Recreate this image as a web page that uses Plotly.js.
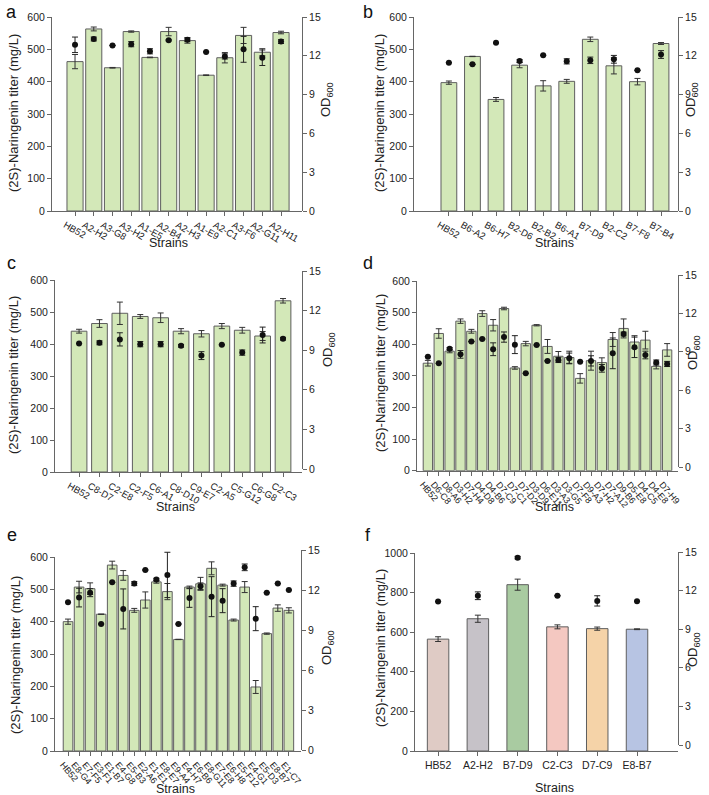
<!DOCTYPE html>
<html>
<head>
<meta charset="utf-8">
<script src="https://cdn.plot.ly/plotly-3.0.1.min.js"></script>
<style>
  html, body { margin: 0; padding: 0; background: #fff; }
  #chart { width: 709px; height: 795px; }
</style>
</head>
<body>
<div id="chart"></div>
<script>
// ---- data ----
// panel a
const aStrains = ['HB52','A2-H2','A3-G8','A3-H2','A1-E5','A2-B4','A2-H3','A1-E9','A2-C1','A3-F6','A2-G11','A2-H11'];
const aTiter    = [462, 563, 443, 555, 475, 555, 527, 420, 474, 543, 491, 552];
const aTiterErr = [22, 6, 1, 2, 1, 13, 8, 1, 16, 25, 11, 4];
const aOD       = [12.85, 13.3, 12.8, 12.9, 12.35, 13.2, 13.25, 12.3, 11.95, 12.5, 11.85, 13.1];
const aODErr    = [0.6, 0.15, 0, 0.2, 0.2, 0.05, 0.15, 0, 0.2, 1.0, 0.6, 0.15];
// panel b
const bStrains = ['HB52','B6-A2','B6-H7','B2-D6','B2-B2','B6-A1','B7-D9','B2-C2','B7-F8','B7-B4'];
const bTiter    = [397, 478, 345, 451, 387, 401, 531, 449, 400, 518];
const bTiterErr = [5, 0.5, 6, 8, 16, 6, 7, 25, 10, 3];
const bOD       = [11.47, 11.34, 13.0, 11.6, 12.04, 11.57, 11.65, 11.73, 10.88, 12.1];
const bODErr    = [0, 0, 0, 0.1, 0, 0.2, 0.25, 0.3, 0, 0.3];
// panel c
const cStrains = ['HB52','C8-D7','C2-E8','C2-F5','C6-A1','C8-D10','C9-E7','C2-A5','C5-G12','C6-G8','C2-C3'];
const cTiter    = [440, 464, 496, 486, 482, 440, 432, 456, 443, 425, 535];
const cTiterErr = [6, 12, 35, 6, 15, 8, 10, 8, 9, 14, 7];
const cOD       = [9.51, 9.56, 9.82, 9.46, 9.46, 9.33, 8.59, 9.41, 8.82, 10.15, 9.87];
const cODErr    = [0, 0.15, 0.5, 0.2, 0.2, 0.1, 0.3, 0, 0.2, 0.6, 0.1];
// panel d
const dStrains = ['HB52','D6-C8','D8-A6','D3-H2','D7-H4','D4-D8','D4-B6','D7-C9','D7-C1','D7-D2','D3-D9','D6-E11',
                  'D3-A3','D3-G5','D7-F8','D9-A3','D7-H2','D7-A12','D9-B6','D5-E8','D4-C5','D4-E8','D7-H9'];
const dTiter    = [340, 434, 378, 473, 441, 497, 460, 513, 325, 402, 460, 393, 362, 358, 292, 348, 342, 415, 450, 407, 413, 330, 382];
const dTiterErr = [9, 15, 5, 7, 6, 9, 18, 4, 4, 7, 2, 22, 15, 20, 15, 30, 15, 22, 30, 20, 28, 8, 20];
const dOD       = [8.62, 8.1, 9.23, 8.8, 9.8, 10.0, 9.2, 10.15, 9.56, 7.32, 9.53, 8.29, 8.36, 8.5, 8.23, 8.29, 7.71, 8.88, 10.39, 9.35, 8.75, 8.16, 8.05];
const dODErr    = [0, 0, 0.1, 0.3, 0, 0, 0.5, 0.4, 0.7, 0, 0, 0, 0.2, 0.4, 0, 0.4, 0.3, 1.2, 0.15, 0.8, 0.3, 0.2, 0.2];
// panel e
const eStrains = ['HB52','E8-G4','E7-F5','E3-F1','E1-B7','E4-G8','E5-B3','E2-A6','E1-E1','E8-E7','E9-A4',
                  'E4-H7','E6-B6','E8-G11','E7-E8','E6-H8','E5-F12','E4-G1','E5-D3','E8-B7','E1-C7'];
const eTiter    = [400, 507, 502, 423, 575, 543, 435, 467, 523, 493, 345, 507, 517, 565, 513, 405, 507, 198, 363, 442, 435];
const eTiterErr = [8, 18, 18, 0.5, 12, 15, 6, 25, 4, 25, 0.5, 3, 20, 20, 3, 3, 17, 20, 2, 10, 8];
const eOD       = [11.08, 11.43, 11.8, 9.45, 12.58, 10.58, 12.48, 13.5, 12.78, 13.13, 9.45, 11.4, 12.28, 11.5, 11.2, 12.48, 13.7, 9.85, 11.8, 12.48, 12.0];
const eODErr    = [0, 0.7, 0.3, 0, 0, 1.5, 0.15, 0, 0.1, 1.7, 0, 0.7, 0.25, 1.5, 0.9, 0.2, 0.25, 0.9, 0, 0, 0];
// panel f
const fStrains = ['HB52','A2-H2','B7-D9','C2-C3','D7-C9','E8-B7'];
const fTiter    = [565, 668, 840, 627, 618, 615];
const fTiterErr = [12, 18, 28, 10, 8, 2];
const fOD       = [11.15, 11.6, 14.56, 11.6, 11.2, 11.17];
const fODErr    = [0, 0.3, 0.1, 0, 0.4, 0];
const fColors   = ['#dfcbc5', '#c6c2c8', '#a9cba1', '#f4c8c1', '#f5d3a8', '#b7c4e3'];

const W = 709, H = 795;
const px = v => v / W;
const py = v => 1 - v / H;
const FONT = 'Liberation Sans, Arial, sans-serif';
const TXT = '#222';
const LINE = '#666';
const GREEN = '#d3e8b8';

const panels = [
  {letter: 'a', names: aStrains, titer: aTiter, titerErr: aTiterErr, od: aOD, odErr: aODErr,
   x: [52, 302], yL: [211, 17], yR: [211, 17], xr: [-1.23, 12.12], bw: 0.86, ang: 30, shift: -10, lf: 9.5, ymax: 600, dtick: 100,
   lp: [11, 12], yt: [14, 113], ot: [327, 100], st: [168, 243]},
  {letter: 'b', names: bStrains, titer: bTiter, titerErr: bTiterErr, od: bOD, odErr: bODErr,
   x: [414, 678], yL: [211, 17], yR: [211, 17], xr: [-1.48, 9.72], bw: 0.67, ang: 30, shift: -10, lf: 9.5, ymax: 600, dtick: 100,
   lp: [368, 12], yt: [380, 113], ot: [692, 100], st: [554, 243]},
  {letter: 'c', names: cStrains, titer: cTiter, titerErr: cTiterErr, od: cOD, odErr: cODErr,
   x: [55, 302], yL: [472, 280], yR: [469, 271], xr: [-1.18, 10.93], bw: 0.77, ang: 30, shift: -10, lf: 9.5, ymax: 600, dtick: 100,
   lp: [11, 263], yt: [13, 375], ot: [328, 350], st: [175, 507]},
  {letter: 'd', names: dStrains, titer: dTiter, titerErr: dTiterErr, od: dOD, odErr: dODErr,
   x: [417, 678], yL: [470.7, 281], yR: [467, 275], xr: [-1, 23], bw: 0.86, ang: 50, shift: -5, lf: 9, ymax: 600, dtick: 100,
   lp: [368, 263], yt: [380, 373], ot: [693, 353], st: [554, 507]},
  {letter: 'e', names: eStrains, titer: eTiter, titerErr: eTiterErr, od: eOD, odErr: eODErr,
   x: [55, 301], yL: [751, 557], yR: [750, 550], xr: [-1.18, 21.1], bw: 0.87, ang: 50, shift: -5, lf: 9, ymax: 600, dtick: 100,
   lp: [12, 535], yt: [15, 655], ot: [327, 648], st: [175, 789]},
  {letter: 'f', names: fStrains, titer: fTiter, titerErr: fTiterErr, od: fOD, odErr: fODErr, colors: fColors,
   x: [415, 678], yL: [751, 553], yR: [745, 552], xr: [-0.58, 6.03], bw: 0.54, ang: 0, shift: 0, lf: 10.5, ymax: 1000, dtick: 200,
   lp: [368, 535], yt: [380, 648], ot: [693, 650], st: [554, 788]}
];

const data = [];
const layout = {
  width: W, height: H,
  margin: {l: 0, r: 0, t: 0, b: 0},
  paper_bgcolor: '#fff',
  plot_bgcolor: 'rgba(0,0,0,0)',
  showlegend: false,
  font: {family: FONT, color: TXT, size: 10.5},
  annotations: []
};

function axisBase() {
  return {
    showline: true, linecolor: LINE, linewidth: 1,
    ticks: 'outside', ticklen: 4, tickcolor: LINE, tickwidth: 1,
    showgrid: false, zeroline: false, fixedrange: true,
    tickfont: {family: FONT, size: 10.5, color: TXT}
  };
}

panels.forEach((p, i) => {
  const n = i + 1;
  const xa = 'x' + (n === 1 ? '' : n);
  const yl = 'y' + (2 * n - 1 === 1 ? '' : 2 * n - 1);
  const yr = 'y' + (2 * n);

  data.push({
    type: 'bar', x: p.names, y: p.titer, width: p.bw,
    xaxis: xa, yaxis: yl,
    marker: {color: p.colors || GREEN, line: {color: '#5e5e5e', width: 1}},
    error_y: {type: 'data', array: p.titerErr, visible: true, color: '#333', thickness: 1, width: 3},
    hoverinfo: 'x+y'
  });
  data.push({
    type: 'scatter', mode: 'markers', x: p.names, y: p.od,
    xaxis: xa, yaxis: yr,
    marker: {color: '#111', size: 6},
    error_y: {type: 'data', array: p.odErr, visible: true, color: '#222', thickness: 1, width: 3},
    hoverinfo: 'x+y'
  });

  layout['xaxis' + (n === 1 ? '' : n)] = Object.assign(axisBase(), {
    type: 'category', anchor: yl,
    domain: [px(p.x[0]), px(p.x[1])],
    range: p.xr, tickangle: p.ang, ticklabelshift: p.shift,
    tickmode: 'array', tickvals: p.names, ticktext: p.names,
    tickfont: {family: FONT, size: p.lf, color: TXT}
  });
  layout['yaxis' + (2 * n - 1 === 1 ? '' : 2 * n - 1)] = Object.assign(axisBase(), {
    anchor: xa, domain: [py(p.yL[0]), py(p.yL[1])],
    range: [0, p.ymax], dtick: p.dtick
  });
  layout['yaxis' + (2 * n)] = Object.assign(axisBase(), {
    anchor: xa, side: 'right', domain: [py(p.yR[0]), py(p.yR[1])],
    range: [0, 15], dtick: 3
  });

  const ann = (txt, xy, opts) => layout.annotations.push(Object.assign({
    text: txt, xref: 'paper', yref: 'paper', x: px(xy[0]), y: py(xy[1]),
    xanchor: 'center', yanchor: 'middle', showarrow: false,
    font: {family: FONT, size: 12, color: TXT}
  }, opts || {}));

  ann(p.letter, p.lp, {font: {family: FONT, size: 18, color: '#111'}});
  ann('(2S)-Naringenin titer (mg/L)', p.yt, {textangle: -90, font: {family: FONT, size: 13, color: TXT}});
  ann('OD<sub>600</sub>', p.ot, {textangle: -90, font: {family: FONT, size: 13, color: TXT}});
  ann('Strains', p.st, {font: {family: FONT, size: 12.5, color: TXT}});
});

Plotly.newPlot('chart', data, layout, {displayModeBar: false, staticPlot: true});
</script>
</body>
</html>
